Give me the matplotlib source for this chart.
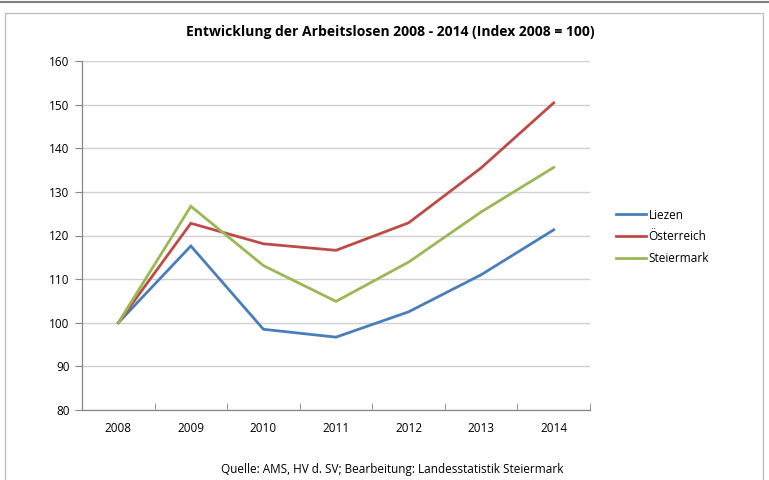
import matplotlib
matplotlib.use("Agg")
import matplotlib.pyplot as plt
from matplotlib.lines import Line2D
from matplotlib.patches import Rectangle

years = ["2008", "2009", "2010", "2011", "2012", "2013", "2014"]
liezen = [100, 117.6, 98.5, 96.7, 102.5, 111.0, 121.3]
oesterreich = [100, 122.8, 118.1, 116.6, 122.9, 135.5, 150.4]
steiermark = [100, 126.7, 113.1, 104.9, 113.9, 125.4, 135.6]
series_names = ["Liezen", "Österreich", "Steiermark"]
colors = ["#4A7EBB", "#BE4B48", "#98B954"]

plt.rcParams['font.family'] = ['Open Sans', 'DejaVu Sans']

fig = plt.figure(figsize=(7.69, 4.8), dpi=100)
W, H = 769, 480
ax = fig.add_axes([82 / W, 1 - 410 / H, (590 - 82) / W, (410 - 61) / H])

x = list(range(len(years)))
for vals, name, c in zip([liezen, oesterreich, steiermark], series_names, colors):
    ax.plot(x, vals, color=c, lw=2.0, label=name, solid_joinstyle='miter')

ax.set_xlim(-0.5, len(years) - 0.5)
ax.set_ylim(80, 160)
ax.set_yticks(range(80, 161, 10))
ax.set_xticks(x)
ax.set_xticklabels(years)
ax.set_xticks([i - 0.5 for i in range(len(years) + 1)], minor=True)
ax.tick_params(axis='x', which='major', length=0, pad=9, labelsize=8.5)
ax.tick_params(axis='x', which='minor', length=5, color='#868686', direction='in')
ax.tick_params(axis='y', length=5, color='#868686', labelsize=8.5, pad=4)
ax.yaxis.grid(True, color='#D0D0D0', lw=1.0)
ax.set_axisbelow(True)
for s in ['top', 'right']:
    ax.spines[s].set_visible(False)
for s in ['left', 'bottom']:
    ax.spines[s].set_color('#868686')
    ax.spines[s].set_linewidth(0.9)

leg = fig.legend(loc='upper left', bbox_to_anchor=(605 / W, 1 - 198 / H), frameon=False,
                 fontsize=8.5, handlelength=2.6, handletextpad=0.2, labelspacing=0.75)

fig.text(390 / W, 1 - 32 / H, "Entwicklung der Arbeitslosen 2008 - 2014 (Index 2008 = 100)",
         ha='center', va='center', fontsize=10, fontweight='bold')
fig.text(392 / W, 1 - 470 / H, "Quelle: AMS, HV d. SV; Bearbeitung: Landesstatistik Steiermark",
         ha='center', va='center', fontsize=8.5)

# frame
fig.add_artist(Line2D([0, 1], [1 - 2 / H, 1 - 2 / H], color='#7F7F7F', lw=1.5, transform=fig.transFigure))
fig.add_artist(Rectangle((5 / W, -0.05), (763 - 5) / W, 1 - 13 / H + 0.05, fill=False,
                         edgecolor='#BFBFBF', lw=1.0, transform=fig.transFigure))

fig.savefig("out.png", dpi=100)
